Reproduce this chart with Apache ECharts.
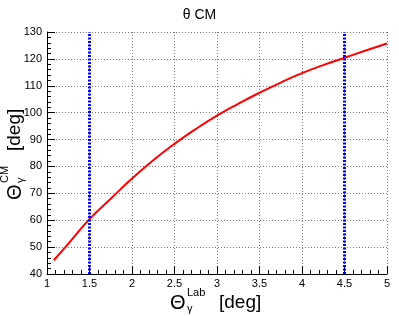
<!DOCTYPE html>
<html>
<head>
<meta charset="utf-8">
<script src="https://cdn.jsdelivr.net/npm/echarts@6/dist/echarts.min.js"></script>
<style>
html,body{margin:0;padding:0;background:#fff;}
#chart{width:399px;height:316px;}
</style>
</head>
<body>
<div id="chart"></div>
<script>
// Data
const labAngle = [1.08, 1.25, 1.5, 1.75, 2, 2.25, 2.5, 2.75, 3, 3.25, 3.5, 3.75, 4, 4.25, 4.5, 4.75, 5];
const cmAngle  = [45.1, 51.2, 60.4, 68.0, 75.5, 82.3, 88.4, 93.9, 98.9, 103.3, 107.4, 111.2, 114.7, 117.7, 120.4, 123.1, 125.7];
const cutLab = [1.5, 4.5];
const cutRange = [40, 130];
const xTicks = [1, 5, 0.5];   // min, max, interval
const yTicks = [40, 130, 10];

const FONT = '"Liberation Sans", Arial, sans-serif';
const chart = echarts.init(document.getElementById('chart'), null, {renderer: 'canvas'});

const curve = labAngle.map((x, i) => [x, cmAngle[i]]);
const cutSeries = cutLab.map(x => ({
  type: 'line',
  data: cutRange.map(y => [x, y]),
  symbol: 'none',
  silent: true,
  z: 5,
  lineStyle: {color: '#0000ff', width: 3, type: [2, 1.5]}
}));

function axisTitle(cx, cy, rot, sup, sub) {
  return {
    type: 'group',
    x: cx, y: cy, rotation: rot,
    children: [
      {type: 'text', x: -44, y: 0, style: {text: 'Θ', font: '20px ' + FONT, fill: '#000', align: 'left', verticalAlign: 'middle'}},
      {type: 'text', x: -27, y: -10, style: {text: sup, font: '11px ' + FONT, fill: '#000', align: 'left', verticalAlign: 'middle'}},
      {type: 'text', x: -27, y: 6, style: {text: sub, font: '11px ' + FONT, fill: '#000', align: 'left', verticalAlign: 'middle'}},
      {type: 'text', x: 5, y: 0, style: {text: '[deg]', font: '19px ' + FONT, fill: '#000', align: 'left', verticalAlign: 'middle'}}
    ]
  };
}

const axisCommon = {
  type: 'value',
  axisLine: {show: true, lineStyle: {color: '#000', width: 1}},
  axisTick: {show: true, inside: true, length: 8, lineStyle: {color: '#000'}},
  minorTick: {show: true, splitNumber: 5, length: 4, lineStyle: {color: '#000'}},
  splitLine: {show: true, lineStyle: {color: '#7a7a7a', type: [1, 2], width: 1}},
  axisLabel: {color: '#000', fontSize: 11, fontFamily: FONT}
};

chart.setOption({
  animation: false,
  backgroundColor: '#fff',
  title: {
    text: 'θ CM', left: 'center', top: 3,
    textStyle: {fontSize: 14, fontWeight: 'normal', color: '#000', fontFamily: FONT}
  },
  grid: {left: 47, right: 12, top: 32, bottom: 42},
  xAxis: Object.assign({}, axisCommon, {
    min: xTicks[0], max: xTicks[1], interval: xTicks[2],
    axisLabel: Object.assign({}, axisCommon.axisLabel, {margin: 4})
  }),
  yAxis: Object.assign({}, axisCommon, {
    min: yTicks[0], max: yTicks[1], interval: yTicks[2],
    axisLabel: Object.assign({}, axisCommon.axisLabel, {margin: 5})
  }),
  series: [{
    type: 'line',
    data: curve,
    smooth: true,
    symbol: 'none',
    z: 4,
    lineStyle: {color: '#ff0000', width: 2}
  }].concat(cutSeries),
  graphic: [
    axisTitle(214, 303, 0, 'Lab', 'γ'),
    axisTitle(15, 156, Math.PI / 2, 'CM', 'γ')
  ]
});
</script>
</body>
</html>
